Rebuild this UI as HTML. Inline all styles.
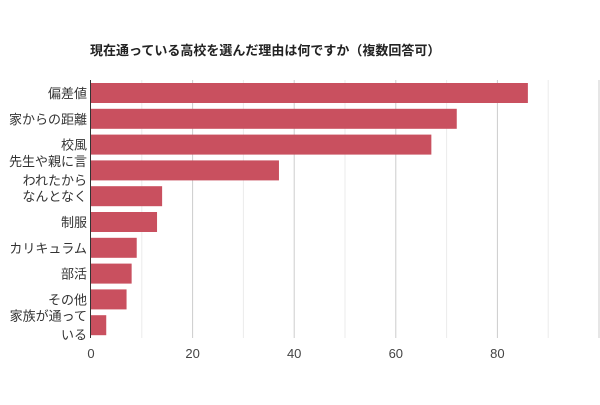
<!DOCTYPE html>
<html><head><meta charset="utf-8"><style>
body{margin:0;background:#fff;font-family:"Liberation Sans","Noto Sans CJK JP",sans-serif;}
svg text{font-family:"Liberation Sans","Noto Sans CJK JP",sans-serif;}
</style></head><body>
<svg id="c" width="600" height="400">
<text x="90" y="55" font-size="13" font-weight="bold" fill="#222">現在通っている高校を選んだ理由は何ですか（複数回答可）</text>
</svg>
<script>
const categories=[["偏差値"],["家からの距離"],["校風"],["先生や親に言","われたから"],["なんとなく"],["制服"],["カリキュラム"],["部活"],["その他"],["家族が通って","いる"]];
const values=[86,72,67,37,14,13,9,8,7,3];
const ticks=[0,20,40,60,80];
const grid=[10,20,30,40,50,60,70,80,90,100];
const svg=document.getElementById('c');const NS='http://www.w3.org/2000/svg';
const x0=91,pxPer=5.08,plotTop=80,band=25.8,bh=20;
const X=v=>x0+v*pxPer;
function mk(t,a){const e=document.createElementNS(NS,t);for(const k in a)e.setAttribute(k,a[k]);svg.appendChild(e);return e;}
grid.forEach(g=>{const l=mk('line',{x1:X(g),x2:X(g),y1:plotTop,y2:338,stroke:g%20?'#ebebeb':'#cccccc','stroke-width':1});

});
ticks.forEach(t=>{const e=mk('text',{x:X(t),y:358,'font-size':13,'text-anchor':'middle',fill:'#444'});e.textContent=t;

});
values.forEach((v,i)=>{const y=plotTop+3+i*band;
const r=mk('rect',{x:x0,y:y,width:v*pxPer,height:bh,fill:'#c9505f'});


const lines=categories[i];const cy=y+bh/2;
lines.forEach((s,j)=>{const ty=cy+5+(j-(lines.length-1)/2)*19;
const t=mk('text',{x:87,y:ty,'font-size':13,'text-anchor':'end',fill:'#333'});t.textContent=s;

});});
const ax=mk('line',{x1:x0-0.5,x2:x0-0.5,y1:plotTop,y2:338,stroke:'#333','stroke-width':1});


</script>
</body></html>
